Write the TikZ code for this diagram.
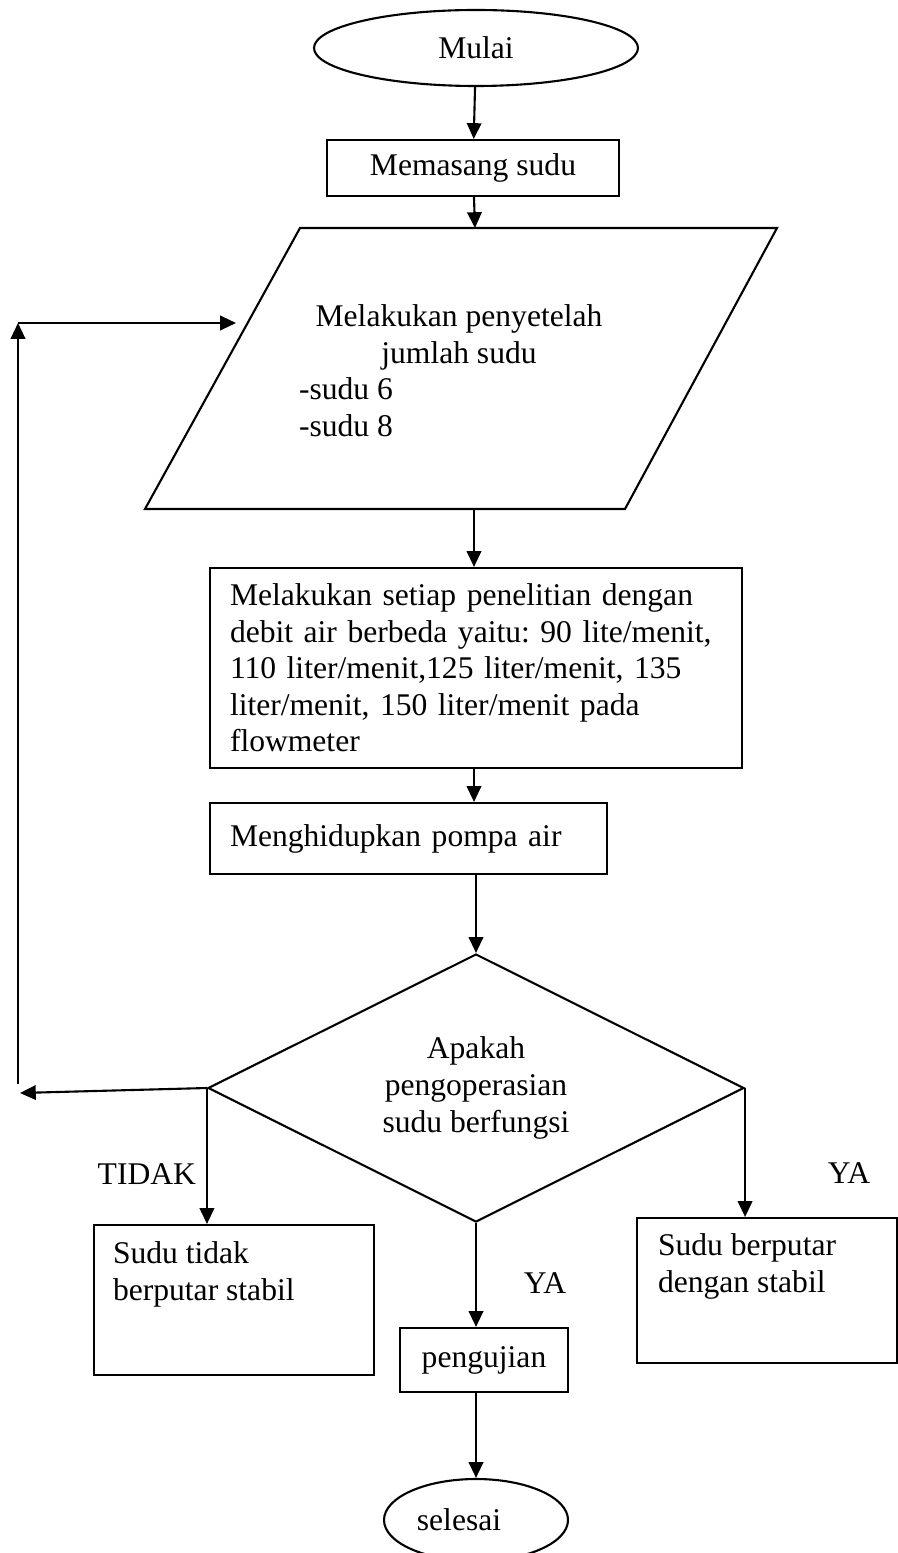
\documentclass[tikz,border=0pt]{standalone}
\usepackage{fontspec}
\setmainfont{Liberation Serif}
\usetikzlibrary{shapes.geometric,arrows.meta}
\newcommand{\piks}{0.38pt}
\frenchspacing
\begin{document}
\begin{tikzpicture}[x=0.38pt,y=-0.38pt,line width=0.8pt,
	font=\fontsize{12}{13.9}\selectfont,
	>={Triangle[length=6pt,width=5.5pt]},
	kotak/.style={draw,rectangle,inner sep=0pt},
	teks/.style={inner sep=0pt,align=left},
	oval/.style={draw,ellipse,inner sep=0pt},
	keputusan/.style={draw,diamond,aspect=2,inner sep=0pt,align=center}]
	\useasboundingbox (0,0) rectangle (897,1553);
	\node[oval,minimum width=324*\piks,minimum height=76*\piks] (mulai) at (476,48) {Mulai};
	\node[kotak,minimum width=292*\piks,minimum height=56*\piks] (pasang) at (473,168) {Memasang sudu};
	\draw (300,228) -- (777,228) -- (625,509) -- (145,509) -- cycle;
	\coordinate (setel-atas) at (475,228);
	\coordinate (setel-bawah) at (474,509);
	\coordinate (setel-kiri) at (236,323);
	\node[teks,align=center,anchor=north] (setel) at (459,304) {Melakukan penyetelah\\jumlah sudu};
	\node[teks,anchor=north west] (jumlah) at (298,377) {-sudu 6\\-sudu 8};
	\node[kotak,inner xsep=20*\piks,text width=492*\piks,align=left,minimum height=200*\piks] (debit) at (476,668) {Melakukan setiap penelitian dengan\\debit air berbeda yaitu: 90 lite/menit,\\110 liter/menit,125 liter/menit, 135\\liter/menit, 150 liter/menit pada\\flowmeter};
	\node[kotak,inner xsep=20*\piks,text width=357*\piks,align=left,minimum height=71*\piks] (pompa) at (408.5,838.5) {Menghidupkan pompa air};
	\node[keputusan,minimum width=536*\piks,minimum height=268*\piks] (cek) at (476,1088) {Apakah\\pengoperasian\\sudu berfungsi};
	\node[kotak,anchor=north west,minimum width=280*\piks,minimum height=150*\piks] (gagal) at (93,1224) {};
	\node[teks,anchor=north west] (gagal-teks) at (112,1241) {Sudu tidak\\berputar stabil};
	\node[kotak,anchor=north west,minimum width=260*\piks,minimum height=145*\piks] (stabil) at (636,1217) {};
	\node[teks,anchor=north west] (stabil-teks) at (657,1233) {Sudu berputar\\dengan stabil};
	\node[kotak,minimum width=168*\piks,minimum height=64*\piks] (uji) at (484,1360) {pengujian};
	\node[oval,minimum width=184*\piks,minimum height=82*\piks,
		label={[teks,xshift=-17*\piks]center:selesai}] (selesai) at (476,1520) {};
	\node[teks,anchor=east] (tidak) at (197,1174) {TIDAK};
	\node[teks] (ya-kanan) at (849,1173) {YA};
	\node[teks] (ya-bawah) at (545,1283) {YA};
	\coordinate (balik-kiri) at (20,1093);
	\coordinate (balik-a) at (18,1084);
	\coordinate (balik-b) at (18,323);
	\draw[->] (mulai) -- (pasang);
	\draw[->] (pasang) -- (setel-atas);
	\draw[->] (setel-bawah) -- (debit.north -| setel-bawah);
	\draw[->] (debit.south -| setel-bawah) -- (pompa.north -| setel-bawah);
	\draw[->] (pompa.south -| cek.north) -- (cek.north);
	\draw[->] (cek.west) -- (balik-kiri);
	\draw[->] (balik-a) -- (balik-b);
	\draw[->] (balik-b) -- (setel-kiri);
	\draw[->] (cek.west) -- (cek.west |- gagal.north);
	\draw[->] (cek.east) -- (cek.east |- stabil.north);
	\draw[->] (cek.south) -- (cek.south |- uji.north);
	\draw[->] (uji.south -| selesai.north) -- (selesai.north);
\end{tikzpicture}
\end{document}
